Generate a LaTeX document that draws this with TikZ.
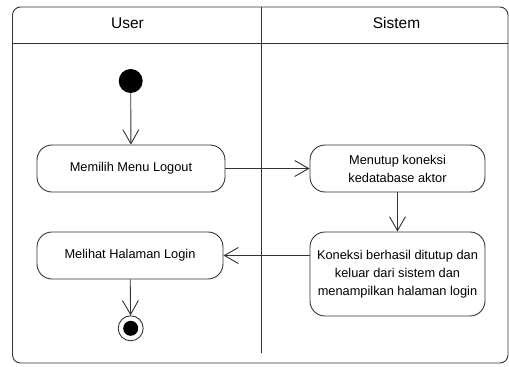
\documentclass[tikz,border=0pt]{standalone}
\usepackage{fontspec}
\setmainfont{Liberation Sans}
\usetikzlibrary{arrows.meta}

\begin{document}
\begin{tikzpicture}[x=1pt, y=-1pt,
    line/.style={draw=black!80, line width=0.9pt},
    action/.style={line, rounded corners=15, align=center, inner sep=0pt,
        font=\fontsize{12.8}{18}\selectfont},
    flow/.style={line, -{Straight Barb[length=14pt, width=16pt]}},
    lane/.style={font=\fontsize{15.5}{18}\selectfont}]
    \useasboundingbox (0, 0) rectangle (509, 367);
    \def\mid{261}

    % swimlanes
    \draw[line, rounded corners=8] (12.5, 7) rectangle (508, 363);
    \draw[line] (12.5, 43) -- (508, 43);
    \draw[line] (\mid, 7) -- (\mid, 353);
    \node[lane] (user) at (127.5, 23) {User};
    \node[lane] (sistem) at (396.5, 23) {Sistem};

    \node[circle, fill=black, minimum size=24, inner sep=0pt] (start) at (130.7, 81) {};
    \node[action, minimum width=188, minimum height=47] (logout) at (131, 168.5) {Memilih Menu Logout};
    \node[action, minimum width=175, minimum height=47] (tutup) at (397.5, 168.5) {Menutup koneksi\\kedatabase aktor};
    \node[action, minimum width=175, minimum height=84] (keluar) at (397.5, 274) {Koneksi berhasil ditutup dan\\keluar dari sistem dan\\menampilkan halaman login};
    \node[action, minimum width=186, minimum height=47] (halaman) at (130, 255.5) {Melihat Halaman Login};
    \node[circle, line, minimum size=25, inner sep=0pt,
        path picture={\fill (path picture bounding box.center) circle (7.5);}] (end) at (130.7, 328.3) {};

    \draw[flow] (start) -- (logout);
    \draw[flow] (logout) -- (tutup);
    \draw[flow] (tutup) -- (keluar);
    \draw[flow] (keluar.west |- halaman.east) -- (halaman.east);
    \draw[flow] (halaman) -- (end);
\end{tikzpicture}
\end{document}
